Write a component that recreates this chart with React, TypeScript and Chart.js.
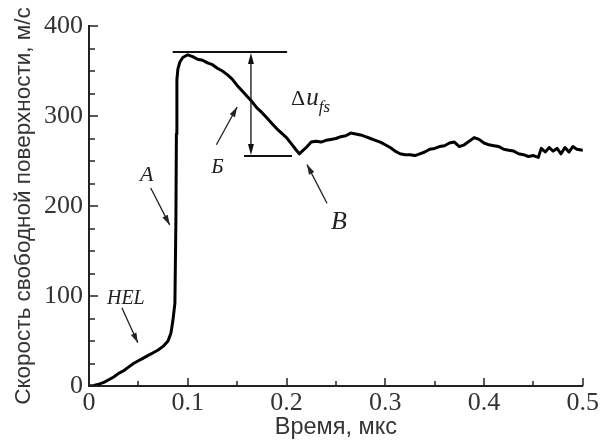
import React, { useEffect, useRef } from "react";
import { Chart, registerables } from "chart.js";

Chart.register(...registerables);

// Time, µs
const TIME = [
  0, 0.005, 0.01, 0.015, 0.02, 0.025, 0.03, 0.035, 0.04, 0.045, 0.05, 0.055, 0.06, 0.065, 0.07, 0.075,
  0.08, 0.083, 0.085, 0.087, 0.088, 0.0885, 0.089, 0.09, 0.092, 0.095, 0.1,
  0.105, 0.11, 0.115, 0.12, 0.125, 0.13, 0.135, 0.14, 0.145, 0.15, 0.155, 0.16, 0.165, 0.17, 0.175,
  0.18, 0.185, 0.19, 0.195, 0.2, 0.205, 0.21, 0.213, 0.217, 0.22, 0.225, 0.23, 0.235, 0.24, 0.245,
  0.25, 0.255, 0.26, 0.265, 0.27, 0.275, 0.28, 0.285, 0.29, 0.295, 0.3, 0.305, 0.31, 0.315, 0.32,
  0.325, 0.33, 0.335, 0.34, 0.345, 0.35, 0.355, 0.36, 0.365, 0.37, 0.375, 0.38, 0.385, 0.39, 0.395,
  0.4, 0.405, 0.41, 0.415, 0.42, 0.425, 0.43, 0.435, 0.44, 0.445, 0.45, 0.455, 0.458, 0.462, 0.466,
  0.47, 0.474, 0.478, 0.482, 0.486, 0.49, 0.494, 0.5,
];
// Free-surface velocity, m/s
const SPEED = [
  0, 0.5, 2, 4, 7, 10, 14, 17, 21, 25, 28, 31, 34, 37, 40, 44,
  50, 59, 73, 92, 184, 280, 340, 352, 360, 365, 368,
  366, 363, 362, 359, 357, 353, 350, 346, 341, 334, 328, 322, 316, 309, 304,
  298, 292, 286, 281, 276, 269, 262, 258, 262, 265, 271, 272, 271, 273, 274,
  275, 277, 278, 281, 280, 279, 277, 275, 273, 271, 268, 265, 261, 258, 257,
  257, 256, 258, 260, 263, 264, 266, 267, 270, 271, 266, 268, 272, 276, 274,
  270, 268, 267, 266, 263, 262, 261, 258, 257, 255, 256, 254, 264, 260, 265,
  261, 264, 258, 265, 260, 266, 263, 262,
];

const X_TITLE = "Время, мкс";
const Y_TITLE = "Скорость свободной поверхности, м/с";

// annotation labels (data coordinates)
const LABEL_TEXT = ["А", "HEL", "Б", "В"];
const LABEL_T = [0.0585, 0.0373, 0.13, 0.253];
const LABEL_V = [234, 97, 243, 182];
const LABEL_SIZE = [22, 20, 21, 26];

// pointer arrows: [t1, v1, t2, v2] (tail -> head)
const ARROWS = [
  [0.0625, 220, 0.0817, 179],
  [0.0333, 87, 0.0494, 48],
  [0.129, 268, 0.15, 310],
  [0.241, 203, 0.2208, 246],
];

// Δu_fs marker lines
const PEAK_LINE = [0.0847, 0.2006, 371];
const TROUGH_LINE = [0.157, 0.2056, 255.5];
const DELTA_T = 0.164;
const DELTA_LABEL = [0.2046, 312];

const SERIF = "'Liberation Serif', 'Times New Roman', serif";
const SANS = "'Liberation Sans', Arial, sans-serif";

function arrowHead(ctx: CanvasRenderingContext2D, x1: number, y1: number, x2: number, y2: number, len = 10, w = 3) {
  const a = Math.atan2(y2 - y1, x2 - x1);
  ctx.beginPath();
  ctx.moveTo(x2, y2);
  ctx.lineTo(x2 - len * Math.cos(a) + w * Math.sin(a), y2 - len * Math.sin(a) - w * Math.cos(a));
  ctx.lineTo(x2 - len * Math.cos(a) - w * Math.sin(a), y2 - len * Math.sin(a) + w * Math.cos(a));
  ctx.closePath();
  ctx.fill();
}

const annotPlugin = {
  id: "annot",
  afterDatasetsDraw(chart: any) {
    const { ctx, chartArea, scales } = chart;
    const xs = scales.x;
    const ys = scales.y;
    const X = (t: number) => xs.getPixelForValue(t);
    const Y = (v: number) => ys.getPixelForValue(v);
    ctx.save();
    // inward tick marks
    ctx.strokeStyle = "#222";
    ctx.lineWidth = 1.5;
    ys.ticks.forEach((tk: any) => {
      const py = Math.round(Y(tk.value));
      const major = Math.round(tk.value) % 100 === 0;
      const len = major ? 9 : 6;
      ctx.beginPath();
      ctx.moveTo(chartArea.left, py);
      ctx.lineTo(chartArea.left + len, py);
      ctx.stroke();
    });
    xs.ticks.forEach((tk: any) => {
      const px = Math.round(X(tk.value));
      const major = Math.round(tk.value * 100) % 10 === 0;
      const len = major ? 8 : 5;
      ctx.beginPath();
      ctx.moveTo(px, chartArea.bottom);
      ctx.lineTo(px, chartArea.bottom - len);
      ctx.stroke();
    });

    // Δu_fs horizontal lines
    ctx.strokeStyle = "#111";
    ctx.lineWidth = 2;
    ctx.beginPath();
    ctx.moveTo(X(PEAK_LINE[0]), Y(PEAK_LINE[2]));
    ctx.lineTo(X(PEAK_LINE[1]), Y(PEAK_LINE[2]));
    ctx.moveTo(X(TROUGH_LINE[0]), Y(TROUGH_LINE[2]));
    ctx.lineTo(X(TROUGH_LINE[1]), Y(TROUGH_LINE[2]));
    ctx.stroke();
    // vertical double arrow
    const dx = X(DELTA_T);
    const dy1 = Y(PEAK_LINE[2]) + 1;
    const dy2 = Y(TROUGH_LINE[2]) - 1;
    ctx.lineWidth = 1.3;
    ctx.fillStyle = "#111";
    ctx.beginPath();
    ctx.moveTo(dx, dy1 + 4);
    ctx.lineTo(dx, dy2 - 4);
    ctx.stroke();
    arrowHead(ctx, dx, dy2, dx, dy1, 11, 3);
    arrowHead(ctx, dx, dy1, dx, dy2, 11, 3);

    // pointer arrows
    ctx.strokeStyle = "#222";
    ctx.fillStyle = "#222";
    ctx.lineWidth = 1.3;
    ARROWS.forEach(([t1, v1, t2, v2]) => {
      const x1 = X(t1), y1 = Y(v1), x2 = X(t2), y2 = Y(v2);
      ctx.beginPath();
      ctx.moveTo(x1, y1);
      ctx.lineTo(x2, y2);
      ctx.stroke();
      arrowHead(ctx, x1, y1, x2, y2, 10, 3);
    });

    // labels
    ctx.fillStyle = "#222";
    ctx.textAlign = "center";
    ctx.textBaseline = "middle";
    LABEL_TEXT.forEach((txt, i) => {
      ctx.font = `italic ${LABEL_SIZE[i]}px ${SERIF}`;
      ctx.fillText(txt, X(LABEL_T[i]), Y(LABEL_V[i]));
    });

    // Δu_fs
    ctx.textAlign = "left";
    ctx.textBaseline = "alphabetic";
    let lx = X(DELTA_LABEL[0]);
    const ly = Y(DELTA_LABEL[1]);
    ctx.font = `22px ${SERIF}`;
    ctx.fillText("Δ", lx, ly);
    lx += ctx.measureText("Δ").width + 1;
    ctx.font = `italic 25px ${SERIF}`;
    ctx.fillText("u", lx, ly);
    lx += ctx.measureText("u").width;
    ctx.font = `italic 17px ${SERIF}`;
    ctx.fillText("fs", lx, ly + 7);
    ctx.restore();
  },
};

export default function App() {
  const ref = useRef<HTMLCanvasElement>(null);
  useEffect(() => {
    if (!ref.current) return;
    const data = TIME.map((t, i) => ({ x: t, y: SPEED[i] }));
    const chart = new Chart(ref.current, {
      type: "line",
      data: {
        datasets: [
          {
            data,
            borderColor: "#000",
            borderWidth: 3,
            pointRadius: 0,
            tension: 0,
            fill: false,
            borderJoinStyle: "round",
            borderCapStyle: "round",
          },
        ],
      },
      options: {
        animation: false,
        responsive: false,
        devicePixelRatio: 1,
        layout: { padding: { left: 0, top: 26, right: 16, bottom: 0 } },
        plugins: { legend: { display: false }, tooltip: { enabled: false } },
        scales: {
          x: {
            type: "linear",
            min: 0,
            max: 0.5,
            afterFit: (s: any) => {
              s.height = 60;
            },
            grid: { display: false, drawTicks: false },
            border: { display: true, color: "#222", width: 2 },
            ticks: {
              stepSize: 0.05,
              autoSkip: false,
              maxRotation: 0,
              padding: 2,
              color: "#333",
              font: { family: SERIF, size: 26 },
              callback: (v: any) => {
                const n = Number(v);
                return Math.round(n * 100) % 10 === 0 ? String(Math.round(n * 10) / 10) : "";
              },
            },
            title: {
              display: true,
              text: X_TITLE,
              color: "#333",
              font: { family: SANS, size: 23.5 },
              padding: { top: 0, bottom: 4 },
            },
          },
          y: {
            type: "linear",
            min: 0,
            max: 400,
            afterFit: (s: any) => {
              s.width = 89;
            },
            grid: { display: false, drawTicks: false },
            border: { display: true, color: "#222", width: 2 },
            ticks: {
              stepSize: 25,
              autoSkip: false,
              padding: 6,
              color: "#333",
              font: { family: SERIF, size: 26 },
              callback: (v: any) => {
                const n = Math.round(Number(v));
                return n % 100 === 0 ? String(n) : "";
              },
            },
            title: {
              display: true,
              text: Y_TITLE,
              color: "#333",
              font: { family: SANS, size: 22.5 },
              padding: { top: 10, bottom: 0 },
            },
          },
        },
      },
      plugins: [annotPlugin],
    } as any);
    return () => chart.destroy();
  }, []);
  return (
    <div style={{ position: "absolute", left: 0, top: 0, width: 601, height: 446, background: "#fff" }}>
      <canvas ref={ref} width={601} height={446} style={{ width: 601, height: 446 }} />
    </div>
  );
}
